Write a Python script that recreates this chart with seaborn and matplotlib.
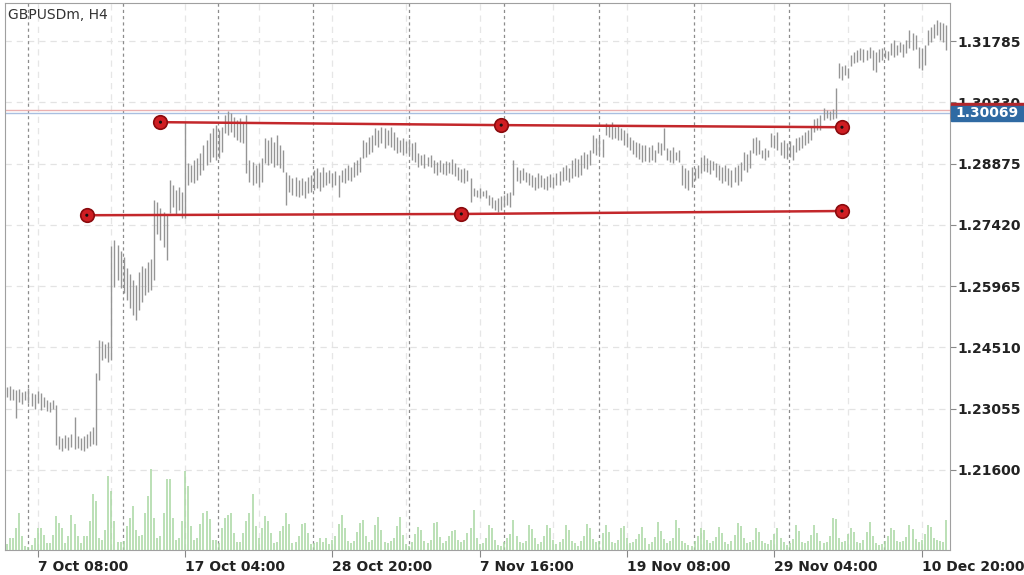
import numpy as np
import pandas as pd
import seaborn as sns
import matplotlib.pyplot as plt
import matplotlib.transforms as mtransforms
from matplotlib.patches import Rectangle

# H4 bars (high / low per bar)
high = [
    1.2357, 1.2359, 1.2352, 1.2350, 1.2352, 1.2345, 1.2348, 1.2355, 1.2343, 1.2340,
    1.2347, 1.2343, 1.2333, 1.2326, 1.2321, 1.2326, 1.2314, 1.2240, 1.2236, 1.2243,
    1.2238, 1.2245, 1.2286, 1.2240, 1.2236, 1.2241, 1.2245, 1.2252, 1.2262, 1.2390,
    1.2469, 1.2466, 1.2459, 1.2464, 1.2692, 1.2706, 1.2694, 1.2680, 1.2665, 1.2640,
    1.2625, 1.2611, 1.2599, 1.2630, 1.2645, 1.2640, 1.2655, 1.2660, 1.2801, 1.2796,
    1.2782, 1.2772, 1.2765, 1.2849, 1.2837, 1.2825, 1.2832, 1.2820, 1.2986, 1.2889,
    1.2884, 1.2896, 1.2901, 1.2913, 1.2932, 1.2944, 1.2960, 1.2972, 1.2979, 1.2967,
    1.2974, 1.3003, 1.3012, 1.3008, 1.2998, 1.2991, 1.2996, 1.2986, 1.3003, 1.2896,
    1.2891, 1.2884, 1.2889, 1.2901, 1.2948, 1.2944, 1.2951, 1.2939, 1.2955, 1.2932,
    1.2920, 1.2867, 1.2860, 1.2853, 1.2856, 1.2849, 1.2853, 1.2846, 1.2856, 1.2860,
    1.2872, 1.2877, 1.2867, 1.2879, 1.2867, 1.2872, 1.2865, 1.2870, 1.2860, 1.2872,
    1.2877, 1.2884, 1.2879, 1.2891, 1.2896, 1.2903, 1.2943, 1.2939, 1.2951, 1.2955,
    1.2972, 1.2967, 1.2974, 1.2972, 1.2967, 1.2974, 1.2962, 1.2951, 1.2944, 1.2948,
    1.2941, 1.2946, 1.2936, 1.2939, 1.2913, 1.2908, 1.2910, 1.2903, 1.2908, 1.2896,
    1.2891, 1.2896, 1.2889, 1.2894, 1.2891, 1.2898, 1.2889, 1.2879, 1.2874, 1.2877,
    1.2872, 1.2853, 1.2829, 1.2825, 1.2829, 1.2822, 1.2825, 1.2813, 1.2808, 1.2801,
    1.2806, 1.2810, 1.2813, 1.2817, 1.2820, 1.2896, 1.2879, 1.2872, 1.2877, 1.2867,
    1.2865, 1.2860, 1.2856, 1.2865, 1.2860, 1.2853, 1.2858, 1.2862, 1.2856, 1.2865,
    1.2870, 1.2879, 1.2884, 1.2877, 1.2896, 1.2901, 1.2898, 1.2908, 1.2915, 1.2910,
    1.2920, 1.2955, 1.2948, 1.2951, 1.2946, 1.2984, 1.2979, 1.2986, 1.2974, 1.2979,
    1.2972, 1.2967, 1.2960, 1.2951, 1.2944, 1.2939, 1.2936, 1.2932, 1.2932, 1.2927,
    1.2932, 1.2920, 1.2939, 1.2936, 1.2972, 1.2924, 1.2920, 1.2927, 1.2915, 1.2920,
    1.2884, 1.2877, 1.2872, 1.2879, 1.2877, 1.2884, 1.2903, 1.2908, 1.2901, 1.2896,
    1.2894, 1.2889, 1.2884, 1.2879, 1.2884, 1.2877, 1.2872, 1.2879, 1.2884, 1.2891,
    1.2915, 1.2910, 1.2920, 1.2948, 1.2951, 1.2943, 1.2920, 1.2924, 1.2920, 1.2960,
    1.2955, 1.2962, 1.2939, 1.2944, 1.2936, 1.2941, 1.2932, 1.2948, 1.2951, 1.2955,
    1.2962, 1.2967, 1.2974, 1.2993, 1.2996, 1.3003, 1.3019, 1.3015, 1.3012, 1.3017,
    1.3067, 1.3126, 1.3119, 1.3122, 1.3114, 1.3145, 1.3152, 1.3157, 1.3162, 1.3160,
    1.3157, 1.3164, 1.3157, 1.3152, 1.3160, 1.3162, 1.3157, 1.3155, 1.3174, 1.3181,
    1.3169, 1.3176, 1.3172, 1.3181, 1.3205, 1.3198, 1.3193, 1.3164, 1.3162, 1.3169,
    1.3205, 1.3212, 1.3219, 1.3228, 1.3224, 1.3221, 1.3216,
]
low = [
    1.2333, 1.2326, 1.2326, 1.2284, 1.2321, 1.2316, 1.2326, 1.2319, 1.2312, 1.2305,
    1.2318, 1.2302, 1.2309, 1.2300, 1.2298, 1.2305, 1.2219, 1.2210, 1.2205, 1.2212,
    1.2207, 1.2214, 1.2210, 1.2212, 1.2208, 1.2205, 1.2212, 1.2217, 1.2221, 1.2219,
    1.2374, 1.2421, 1.2426, 1.2417, 1.2421, 1.2595, 1.2611, 1.2592, 1.2580, 1.2564,
    1.2545, 1.2528, 1.2516, 1.2540, 1.2560, 1.2575, 1.2582, 1.2587, 1.2611, 1.2720,
    1.2706, 1.2690, 1.2659, 1.2770, 1.2784, 1.2765, 1.2777, 1.2758, 1.2758, 1.2837,
    1.2844, 1.2841, 1.2849, 1.2860, 1.2872, 1.2884, 1.2891, 1.2903, 1.2896, 1.2901,
    1.2915, 1.2960, 1.2955, 1.2962, 1.2951, 1.2943, 1.2939, 1.2936, 1.2865, 1.2844,
    1.2837, 1.2841, 1.2832, 1.2844, 1.2889, 1.2884, 1.2889, 1.2879, 1.2884, 1.2877,
    1.2867, 1.2789, 1.2820, 1.2813, 1.2810, 1.2808, 1.2813, 1.2806, 1.2817, 1.2820,
    1.2825, 1.2829, 1.2822, 1.2832, 1.2837, 1.2841, 1.2832, 1.2837, 1.2808, 1.2844,
    1.2841, 1.2849, 1.2846, 1.2856, 1.2860, 1.2867, 1.2901, 1.2903, 1.2910, 1.2915,
    1.2932, 1.2927, 1.2936, 1.2924, 1.2932, 1.2927, 1.2920, 1.2913, 1.2915, 1.2908,
    1.2913, 1.2910, 1.2896, 1.2891, 1.2879, 1.2884, 1.2877, 1.2882, 1.2879, 1.2865,
    1.2860, 1.2867, 1.2862, 1.2860, 1.2865, 1.2862, 1.2858, 1.2849, 1.2844, 1.2841,
    1.2846, 1.2796, 1.2810, 1.2808, 1.2806, 1.2810, 1.2806, 1.2789, 1.2782, 1.2777,
    1.2772, 1.2777, 1.2784, 1.2789, 1.2784, 1.2813, 1.2846, 1.2841, 1.2849, 1.2844,
    1.2837, 1.2832, 1.2825, 1.2829, 1.2832, 1.2827, 1.2825, 1.2832, 1.2829, 1.2837,
    1.2837, 1.2846, 1.2849, 1.2844, 1.2853, 1.2858, 1.2856, 1.2860, 1.2877, 1.2874,
    1.2884, 1.2913, 1.2908, 1.2910, 1.2903, 1.2955, 1.2951, 1.2946, 1.2948, 1.2943,
    1.2943, 1.2932, 1.2927, 1.2920, 1.2910, 1.2903, 1.2898, 1.2891, 1.2894, 1.2891,
    1.2896, 1.2891, 1.2913, 1.2908, 1.2920, 1.2896, 1.2891, 1.2889, 1.2896, 1.2891,
    1.2837, 1.2829, 1.2825, 1.2832, 1.2849, 1.2853, 1.2865, 1.2870, 1.2867, 1.2862,
    1.2872, 1.2856, 1.2849, 1.2841, 1.2846, 1.2837, 1.2832, 1.2844, 1.2837, 1.2846,
    1.2872, 1.2867, 1.2877, 1.2913, 1.2908, 1.2910, 1.2901, 1.2896, 1.2903, 1.2927,
    1.2924, 1.2920, 1.2908, 1.2901, 1.2898, 1.2903, 1.2896, 1.2915, 1.2920, 1.2924,
    1.2932, 1.2936, 1.2943, 1.2962, 1.2967, 1.2967, 1.2991, 1.2996, 1.2991, 1.2993,
    1.2996, 1.3091, 1.3086, 1.3098, 1.3091, 1.3119, 1.3126, 1.3129, 1.3133, 1.3129,
    1.3133, 1.3138, 1.3110, 1.3105, 1.3129, 1.3133, 1.3138, 1.3133, 1.3145, 1.3140,
    1.3145, 1.3152, 1.3140, 1.3150, 1.3162, 1.3157, 1.3160, 1.3114, 1.3110, 1.3122,
    1.3169, 1.3176, 1.3186, 1.3193, 1.3181, 1.3176, 1.3157,
]
# tick volume (relative units)
volume = [
    6, 12, 12, 22, 37, 14, 4, 3, 5, 12,
    22, 22, 15, 7, 7, 15, 34, 27, 22, 7,
    14, 35, 26, 14, 7, 14, 14, 29, 56, 49,
    12, 10, 20, 74, 59, 29, 8, 8, 9, 24,
    32, 44, 20, 14, 15, 37, 54, 81, 32, 12,
    14, 37, 71, 71, 32, 10, 12, 29, 79, 64,
    24, 10, 12, 26, 37, 39, 31, 10, 10, 7,
    22, 32, 35, 37, 17, 8, 8, 17, 29, 37,
    56, 24, 12, 22, 34, 29, 17, 7, 8, 19,
    24, 37, 26, 7, 8, 14, 26, 27, 17, 6,
    7, 8, 12,
    8, 12, 6, 10, 14, 26, 35, 22, 9, 7,
    9, 18, 27, 30, 14, 8, 10, 25, 33, 20,
    8, 7, 9, 12, 24, 33, 15, 6, 4, 8,
    16, 23, 20, 9, 7, 10, 27, 28, 13, 7,
    9, 14, 19, 20, 10, 8, 10, 17, 22, 40,
    12, 6, 7, 12, 25, 22, 10, 5, 4, 8,
    12, 16, 30, 14, 8, 7, 9, 25, 21, 12,
    6, 8, 14, 25, 22, 10, 6, 8, 11, 25,
    20, 9, 7, 4, 9, 14, 26, 22, 11, 8,
    9, 17, 25, 18, 8, 7, 10, 22, 24, 12,
    7, 8, 11, 16, 23, 12, 6, 8, 13, 28,
    19, 11, 7, 9, 12, 30, 22, 9, 7, 5,
    4, 9, 14, 22, 20, 10, 7, 9, 13, 23,
    17, 8, 6, 9, 15, 27, 24, 12, 7, 8,
    10, 22, 18, 9, 7, 6, 10, 16, 22, 12,
    8, 5, 7, 11, 25, 19, 8, 7, 9, 15,
    25, 17, 9, 7, 8, 14, 32, 31, 12, 8,
    9, 16, 22, 18, 8, 7, 10, 18, 28, 14,
    7, 5, 6, 9, 14, 22, 20, 9, 8, 9,
    13, 25, 21, 11, 8, 10, 16, 25, 23, 12,
    10, 9, 8, 30,
]

week_start_bar = [7, 38, 69, 100, 131, 162, 193, 224, 255, 286]
label_bars = [10, 58, 106, 154, 202, 250, 298]
label_text = ["7 Oct 08:00", "17 Oct 04:00", "28 Oct 20:00", "7 Nov 16:00",
              "19 Nov 08:00", "29 Nov 04:00", "10 Dec 20:00"]
price_ticks = [1.21600, 1.23055, 1.24510, 1.25965, 1.27420, 1.28875, 1.30330, 1.31785]

# trend lines drawn on the chart (anchor bar, price)
upper_bars = [50, 161, 272]
upper_price = [1.2986, 1.2979, 1.2974]
lower_bars = [26, 148, 272]
lower_price = [1.2765, 1.2768, 1.2775]

bid = 1.30069
ask = 1.3014

sns.set_theme(style="white")
plt.rcParams['font.family'] = ['DejaVu Sans']

bars = pd.DataFrame({"bar": np.arange(len(high)), "high": high, "low": low})
vol = pd.DataFrame({"bar": np.arange(len(volume)), "volume": volume})

fig = plt.figure(figsize=(10.24, 5.75), dpi=100)
ax = fig.add_axes([5 / 1024, 25 / 575, 945 / 1024, 547 / 575])
ax.set_facecolor("white")

# volume on its own scale in the lower part
ax2 = ax.twinx()
ax2.set_ylim(0, 547)
ax2.vlines(vol["bar"], 0, vol["volume"], color="#a8d7a2", lw=1.1)
ax2.set_yticks([])
for s in ax2.spines.values():
    s.set_visible(False)

# grid and scales
ax.set_xlim(-0.65, 307.2)
ax.set_ylim(1.1970, 1.3269)
ax.set_yticks(price_ticks)
ax.set_yticklabels([f"{p:.5f}" for p in price_ticks], fontweight="bold", fontsize=10, color="#222222")
ax.yaxis.tick_right()
ax.tick_params(axis="y", left=False, labelleft=False, right=True, labelright=True)
ax.set_xticks(label_bars)
ax.set_xticklabels(label_text, ha="left", fontweight="bold", fontsize=10, color="#222222")
ax.set_xticks(np.arange(10, 307, 24), minor=True)
ax.tick_params(axis="y", which="major", length=4, width=0.8, pad=1, color="#888888")
ax.tick_params(axis="x", which="major", bottom=True, length=5, width=0.8, pad=2, color="#888888")
ax.tick_params(axis="x", which="minor", bottom=False)
ax.grid(True, axis="y", color="#e3e3e3", lw=0.9, ls=(0, (5, 4)))
ax.grid(True, axis="x", which="both", color="#e6e6e6", lw=0.9, ls=(0, (5, 4)))
ax.set_axisbelow(True)
for b in week_start_bar:
    ax.axvline(b - 0.2, color="#8c8c8c", lw=0.9, ls=(0, (2.5, 2.5)), zorder=0.9)
for s in ax.spines.values():
    s.set_color("#a0a0a0")
    s.set_linewidth(0.8)

# bid / ask
ax.axhline(ask, color="#eab0b0", lw=1.0, zorder=1)
ax.axhline(bid, color="#a9bfe0", lw=1.0, zorder=1)

# price bars
ax.vlines(bars["bar"], bars["low"], bars["high"], color="#959595", lw=1.0, zorder=2)

# trend lines
sns.lineplot(x=upper_bars, y=upper_price, ax=ax, color="#c3272b", lw=1.8, zorder=4)
sns.lineplot(x=lower_bars, y=lower_price, ax=ax, color="#c3272b", lw=1.8, zorder=4)
pts = pd.DataFrame({"bar": upper_bars + lower_bars, "price": upper_price + lower_price})
sns.scatterplot(data=pts, x="bar", y="price", ax=ax, s=95, color="#cf1d22",
                edgecolor="#8a0b0e", linewidth=1.2, zorder=5)
sns.scatterplot(data=pts, x="bar", y="price", ax=ax, s=5, color="#111111",
                edgecolor="none", zorder=6)
ax.set_xlabel("")
ax.set_ylabel("")

# price labels on the right scale
trans = mtransforms.blended_transform_factory(ax.transAxes, ax.transData)
ax.add_patch(Rectangle((1.001, ask - 0.0018), 0.09, 0.0036, transform=trans,
                       color="#b3262b", clip_on=False, zorder=7))
ax.add_patch(Rectangle((1.001, bid - 0.0018), 0.09, 0.0036, transform=trans,
                       color="#2f6aa3", clip_on=False, zorder=8))
ax.text(1.0058, bid, f"{bid:.5f}", transform=trans, ha="left", va="center",
        fontsize=10, fontweight="bold", color="white", zorder=9, clip_on=False)

fig.text(8 / 1024, 1 - 15 / 575, "GBPUSDm, H4", ha="left", va="center",
         fontsize=10, color="#333333")

fig.savefig("out.png", dpi=100, facecolor="white")
